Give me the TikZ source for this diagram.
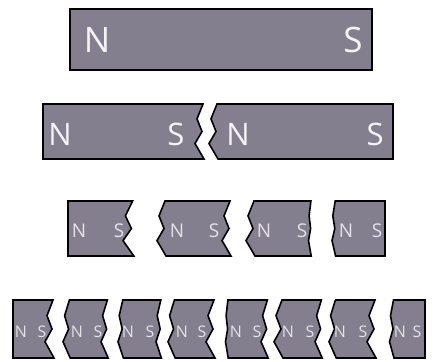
\documentclass[tikz,border=0pt]{standalone}
\usepackage{fontspec}
\setmainfont{Open Sans}
\definecolor{magfill}{HTML}{837F8F}
\definecolor{lbl}{HTML}{F4F4F6}
\definecolor{lblsm}{HTML}{E2E2E8}
% zigzag edge: centre x, top y, bottom y, amplitude
\newcommand\zzdown[4]{-- ({#1+3*#4},{#2}) -- ({#1-3*#4},{#2+0.27*(#3-#2)}) -- ({#1+2*#4},{#2+0.5*(#3-#2)}) -- ({#1-5*#4},{#2+0.72*(#3-#2)}) -- ({#1+4*#4},{#3})}
\newcommand\zzup[4]{-- ({#1+4*#4},{#3}) -- ({#1-5*#4},{#2+0.72*(#3-#2)}) -- ({#1+2*#4},{#2+0.5*(#3-#2)}) -- ({#1-3*#4},{#2+0.27*(#3-#2)}) -- ({#1+3*#4},{#2})}
\tikzset{
  mag/.style={fill=magfill,draw=black,line width=1.6pt,line join=miter},
  bigl/.style={text=lbl,font=\fontsize{35}{35}\selectfont,inner sep=0pt},
  midl/.style={text=lbl,font=\fontsize{31}{31}\selectfont,inner sep=0pt},
  smll/.style={text=lblsm,font=\fontsize{19}{19}\selectfont,inner sep=0pt},
  tinyl/.style={text=lblsm,font=\fontsize{16}{16}\selectfont,inner sep=0pt},
}
\begin{document}
\begin{tikzpicture}[x=1pt,y=-1pt]
\useasboundingbox (0,0) rectangle (433,361);
% row 1
\draw[mag] (70,9) rectangle (372,70);
\node[bigl] (n1) at (97,40) {N};
\node[bigl] (s1) at (353,40) {S};
% row 2
\draw[mag] (43,104) \zzdown{200}{104}{159}{1} -- (43,159) -- cycle;
\draw[mag] (393,104) -- (393,159) \zzup{214}{104}{159}{1} -- cycle;
\node[midl] (n21) at (60,134) {N};
\node[midl] (s21) at (176,134) {S};
\node[midl] (n22) at (238,134) {N};
\node[midl] (s22) at (375,134) {S};
% row 3
\draw[mag] (68,201) \zzdown{129}{201}{256}{1.2} -- (68,256) -- cycle;
\draw[mag] (165,201) \zzdown{227}{201}{256}{1} \zzup{162}{201}{256}{1} -- cycle;
\draw[mag] (254,201) \zzdown{310}{201}{256}{0.3} \zzup{251}{201}{256}{1} -- cycle;
\draw[mag] (385,201) -- (385,256) \zzup{334}{201}{256}{0.4} -- cycle;
\foreach \nx/\sx/\i in {79/119/1,177/214/2,264/302/3,346/377/4}{
  \node[smll] (n3\i) at (\nx,231) {N};
  \node[smll] (s3\i) at (\sx,231) {S};
}
% row 4
\draw[mag] (13,300) \zzdown{50}{300}{358}{1} -- (13,358) -- cycle;
\draw[mag] (70,300) \zzdown{105}{300}{358}{0.8} \zzup{67}{300}{358}{0.8} -- cycle;
\draw[mag] (123,300) \zzdown{159}{300}{358}{0.6} \zzup{121}{300}{358}{0.6} -- cycle;
\draw[mag] (175,300) \zzdown{211}{300}{358}{1} \zzup{172}{300}{358}{0.8} -- cycle;
\draw[mag] (228,300) \zzdown{265}{300}{358}{0.8} \zzup{227}{300}{358}{0.3} -- cycle;
\draw[mag] (282,300) \zzdown{319}{300}{358}{0.8} \zzup{279}{300}{358}{1} -- cycle;
\draw[mag] (335,300) \zzdown{372}{300}{358}{1} \zzup{333}{300}{358}{0.8} -- cycle;
\draw[mag] (425,300) -- (425,358) \zzup{392}{300}{358}{0.5} -- cycle;
\foreach \nx/\sx/\i in {21/42/1,77/98/2,128/150/3,182/202/4,236/257/5,288/310/6,340/363/7,400/417/8}{
  \node[tinyl] (n4\i) at (\nx,332) {N};
  \node[tinyl] (s4\i) at (\sx,332) {S};
}
\end{tikzpicture}
\end{document}
